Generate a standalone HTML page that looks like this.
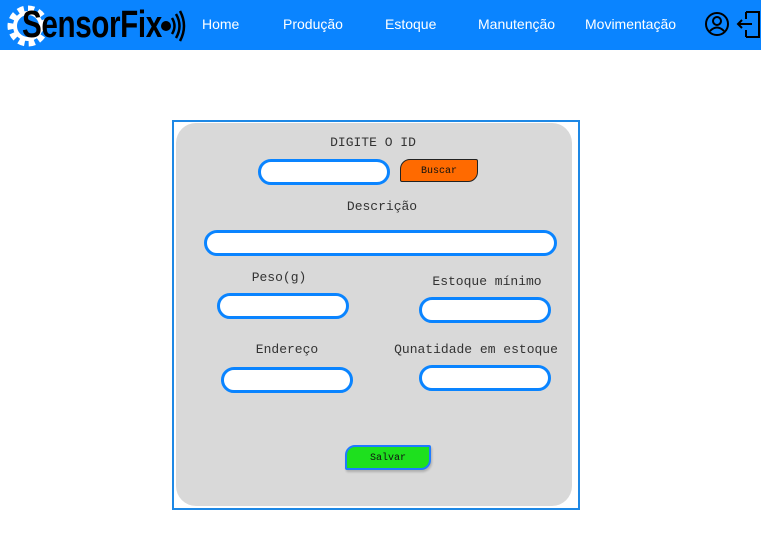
<!DOCTYPE html>
<html><head><meta charset="utf-8"><style>
body{margin:0;width:761px;height:550px;background:#fff;position:relative;overflow:hidden;font-family:"Liberation Mono",monospace}
.hdr{position:absolute;left:0;top:0;width:761px;height:50px;background:#0a84ff}
.nav{position:absolute;top:16px;color:#fff;font:14px "Liberation Sans",sans-serif}
.logo{position:absolute;left:22px;top:3px;font:bold 38px/44px "Liberation Sans",sans-serif;color:#000;transform:scaleX(0.78);transform-origin:0 0;letter-spacing:-0.5px}
.frame{position:absolute;left:172px;top:120px;width:404px;height:386px;border:2px solid #1e88e5}
.panel{position:absolute;left:176px;top:123px;width:396px;height:383px;background:#d9d9d9;border-radius:20px}
.lbl{position:absolute;font-size:13px;color:#333;transform:translateX(-50%);white-space:nowrap}
.in{position:absolute;background:#fff;border:3px solid #0a84ff;border-radius:13px;box-sizing:border-box}
.btn{position:absolute;box-sizing:border-box;font-size:10px;color:#111;border-radius:10px 2px 10px 2px;display:flex;align-items:center;justify-content:center}
</style></head><body>
<div class="hdr"></div>
<svg style="position:absolute;left:6px;top:3px" width="40" height="46"><circle cx="22" cy="23" r="17" fill="none" stroke="#fff" stroke-width="7" stroke-dasharray="6 4"/><circle cx="22" cy="23" r="13" fill="none" stroke="#fff" stroke-width="4"/></svg>
<div class="logo">SensorFix</div>
<svg style="position:absolute;left:160px;top:8px" width="26" height="36"><circle cx="6" cy="18" r="5" fill="#000"/><path d="M12 10 Q17 18 12 26 M16 6 Q23 18 16 30 M20 3 Q28 18 20 33" stroke="#000" stroke-width="2.5" fill="none"/></svg>
<div class="nav" style="left:202px">Home</div>
<div class="nav" style="left:283px">Produção</div>
<div class="nav" style="left:385px">Estoque</div>
<div class="nav" style="left:478px">Manutenção</div>
<div class="nav" style="left:585px">Movimentação</div>
<svg style="position:absolute;left:704px;top:11px" width="26" height="26"><circle cx="13" cy="13" r="11" fill="none" stroke="#000" stroke-width="2"/><circle cx="13" cy="10" r="4" fill="none" stroke="#000" stroke-width="2"/><path d="M6 20 Q13 13 20 20" fill="none" stroke="#000" stroke-width="2"/></svg>
<svg style="position:absolute;left:736px;top:10px" width="25" height="30"><path d="M10 2 H23 V27 H10 M10 2 V9 M10 27 V20" fill="none" stroke="#000" stroke-width="2"/><path d="M2 14 H16 M6 10 L2 14 L6 18" fill="none" stroke="#000" stroke-width="2"/></svg>
<div class="frame"></div>
<div class="panel"></div>
<div class="lbl" style="left:373px;top:135px">DIGITE O ID</div>
<div class="in" style="left:258px;top:159px;width:132px;height:26px"></div>
<div class="btn" style="left:400px;top:159px;width:78px;height:23px;background:#ff6a00;border:1.5px solid #222;padding-top:2px">Buscar</div>
<div class="lbl" style="left:382px;top:199px">Descrição</div>
<div class="in" style="left:204px;top:230px;width:353px;height:26px"></div>
<div class="lbl" style="left:279px;top:270px">Peso(g)</div>
<div class="in" style="left:217px;top:293px;width:132px;height:26px"></div>
<div class="lbl" style="left:487px;top:274px">Estoque mínimo</div>
<div class="in" style="left:419px;top:297px;width:132px;height:26px"></div>
<div class="lbl" style="left:287px;top:342px">Endereço</div>
<div class="in" style="left:221px;top:367px;width:132px;height:26px"></div>
<div class="lbl" style="left:476px;top:342px">Qunatidade em estoque</div>
<div class="in" style="left:419px;top:365px;width:132px;height:26px"></div>
<div class="btn" style="left:345px;top:445px;width:86px;height:25px;background:#1ee01e;border:2px solid #1e7bff;padding-top:2px;box-shadow:1px 2px 2px rgba(0,0,0,.2)">Salvar</div>
</body></html>
